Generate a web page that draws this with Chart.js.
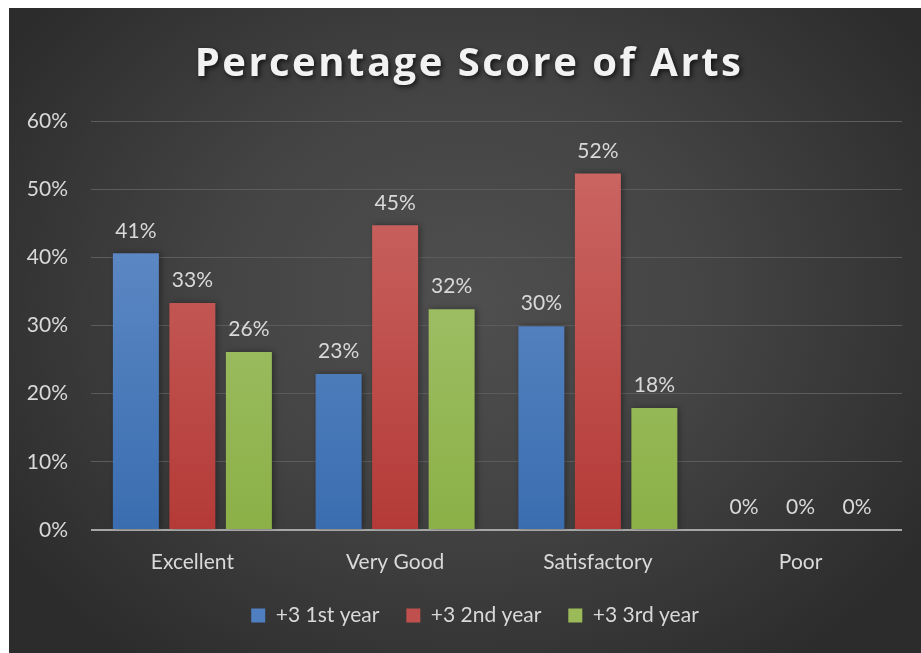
<!DOCTYPE html>
<html>
<head>
<meta charset="utf-8">
<script src="https://cdn.jsdelivr.net/npm/chart.js@4.4.1/dist/chart.umd.min.js"></script>
<style>
  html, body { margin: 0; padding: 0; background: #fff; }
  #panel {
    position: absolute; left: 9px; top: 8px; width: 912px; height: 645px;
    background: radial-gradient(ellipse 60% 70% at 50% 45%, #4f4f4f 0%, #444 45%, #2c2c2c 100%);
  }
  canvas { display: block; }
</style>
</head>
<body>
<div id="panel"><canvas id="artsChart" width="912" height="645"></canvas></div>
<script>
// chart data
const categories = ['Excellent', 'Very Good', 'Satisfactory', 'Poor'];
const firstYear = [40.6, 22.9, 29.9, 0];
const secondYear = [33.3, 44.7, 52.3, 0];
const thirdYear = [26.1, 32.4, 17.9, 0];
const yTicks = [0, 10, 20, 30, 40, 50, 60];

const titleText = 'Percentage Score of Arts';
const textColor = '#d9d9d9';
const fontFamily = 'Lato, "Open Sans", sans-serif';

// vertical gradient for bars
function barGradient(top, bottom) {
    return function(context) {
        const area = context.chart.chartArea;
        if (!area) return bottom;
        const g = context.chart.ctx.createLinearGradient(0, area.top, 0, area.bottom);
        g.addColorStop(0, top);
        g.addColorStop(1, bottom);
        return g;
    };
}

// title with shadow
const titlePlugin = {
    id: 'bigTitle',
    afterDraw(chart) {
        const ctx = chart.ctx;
        ctx.save();
        ctx.font = 'bold 40px "Open Sans", sans-serif';
        ctx.letterSpacing = '2.5px';
        ctx.fillStyle = '#f2f2f2';
        ctx.textAlign = 'center';
        ctx.textBaseline = 'middle';
        ctx.shadowColor = 'rgba(0,0,0,0.7)';
        ctx.shadowBlur = 5;
        ctx.shadowOffsetX = 2;
        ctx.shadowOffsetY = 2;
        ctx.fillText(titleText, chart.width / 2 + 4, 57);
        ctx.restore();
    }
};

// value labels above bars
const valueLabels = {
    id: 'valueLabels',
    afterDatasetsDraw(chart) {
        const ctx = chart.ctx;
        ctx.save();
        ctx.font = '21px ' + fontFamily;
        ctx.fillStyle = textColor;
        ctx.textAlign = 'center';
        ctx.textBaseline = 'bottom';
        chart.data.datasets.forEach((ds, i) => {
            chart.getDatasetMeta(i).data.forEach((bar, j) => {
                ctx.fillText(Math.round(ds.data[j]) + '%', bar.x, bar.y - 12);
            });
        });
        ctx.restore();
    }
};

// soft shadow behind bars
const barShadow = {
    id: 'barShadow',
    beforeDatasetsDraw(chart) {
        const ctx = chart.ctx;
        ctx.save();
        ctx.shadowColor = 'rgba(0,0,0,0.35)';
        ctx.shadowBlur = 6;
        ctx.shadowOffsetX = 2;
        ctx.shadowOffsetY = 0;
    },
    afterDatasetsDraw(chart) {
        chart.ctx.restore();
    }
};

// legend in the original sits a bit right of the canvas centre
const legendShift = {
    id: 'legendShift',
    afterLayout(chart) {
        if (chart.legend) chart.legend.left += 39;
    }
};

const ctx = document.getElementById('artsChart').getContext('2d');
new Chart(ctx, {
    type: 'bar',
    data: {
        labels: categories,
        datasets: [
            { label: '+3 1st year', data: firstYear, backgroundColor: barGradient('#6b93cc', '#3a6db0') },
            { label: '+3 2nd year', data: secondYear, backgroundColor: barGradient('#cd6b68', '#b43a37') },
            { label: '+3 3rd year', data: thirdYear, backgroundColor: barGradient('#aac879', '#8cb047') }
        ]
    },
    options: {
        responsive: false,
        animation: false,
        devicePixelRatio: 1,
        categoryPercentage: 0.836,
        barPercentage: 0.814,
        layout: { padding: { top: 113, right: 19, bottom: 17, left: 0 } },
        scales: {
            x: {
                grid: { display: false },
                border: { display: false },
                ticks: { color: textColor, font: { family: fontFamily, size: 21 }, padding: 12 },
                afterFit(s) { s.height = 48; }
            },
            y: {
                min: 0,
                max: 60,
                afterBuildTicks(s) { s.ticks = yTicks.map(v => ({ value: v })); },
                grid: {
                    drawTicks: false,
                    color: c => c.tick && c.tick.value === 0 ? '#a6a6a6' : '#5c5c5c',
                    lineWidth: c => c.tick && c.tick.value === 0 ? 2 : 1
                },
                border: { display: false },
                ticks: {
                    color: textColor,
                    font: { family: fontFamily, size: 21 },
                    padding: 23,
                    callback: v => v + '%'
                },
                afterFit(s) { s.width = 82; }
            }
        },
        plugins: {
            legend: {
                position: 'bottom',
                labels: {
                    color: textColor,
                    font: { family: fontFamily, size: 21 },
                    boxWidth: 14,
                    boxHeight: 14,
                    padding: 27,
                    generateLabels(chart) {
                        const fills = ['#4f7fc0', '#c0504d', '#9bbb59'];
                        return chart.data.datasets.map((ds, i) => ({
                            text: ds.label,
                            fillStyle: fills[i],
                            strokeStyle: fills[i],
                            lineWidth: 0,
                            fontColor: textColor,
                            datasetIndex: i
                        }));
                    }
                }
            },
            tooltip: { enabled: false }
        }
    },
    plugins: [barShadow, valueLabels, titlePlugin, legendShift]
});
</script>
</body>
</html>
